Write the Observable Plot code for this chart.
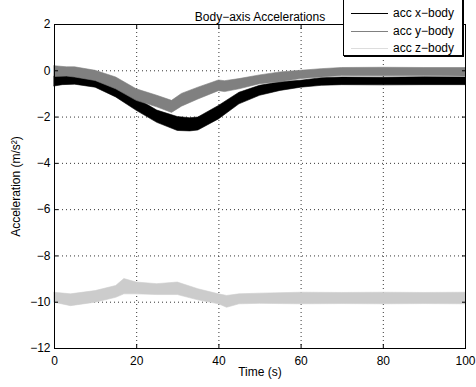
<!DOCTYPE html>
<html>
<head>
<meta charset="utf-8">
<script src="https://cdn.jsdelivr.net/npm/d3@7"></script>
<script src="https://cdn.jsdelivr.net/npm/@observablehq/plot@0.6"></script>
<style>
  html, body { margin: 0; padding: 0; background: #fff; }
  #wrap { position: relative; width: 476px; height: 387px; font-family: "Liberation Sans", Arial, sans-serif; }
  #legend { position: absolute; left: 343px; top: -1px; width: 118px; height: 55px; background: #fff;
    border: 1px solid #000; box-shadow: 1px 1px 0 #000; font-size: 12px; }
  .row { position: absolute; left: 7px; height: 14px; display: flex; align-items: center; }
  .row span.l { display: inline-block; width: 37px; height: 0; border-top: 1px solid; margin-right: 5px; }
</style>
</head>
<body>
<div id="wrap"></div>
<script>
// ---- data (noise band envelopes: low / high) ----
const title = "Body\u2212axis Accelerations";
const xLabel = "Time (s)";
const yLabel = "Acceleration (m/s\u00B2)";
const seriesNames = ["acc x\u2212body", "acc y\u2212body", "acc z\u2212body"];
const seriesColors = ["#000000", "#808080", "#cccccc"];
const xTicks = [0, 20, 40, 60, 80, 100];
const yTicks = [2, 0, -2, -4, -6, -8, -10, -12];

const xTime = [0, 2, 5, 10, 15, 20, 25, 30, 33, 35, 40, 45, 50, 55, 60, 65, 70, 80, 90, 100];
const xLow  = [-0.68, -0.62, -0.6, -0.73, -1.15, -1.73, -2.25, -2.6, -2.62, -2.58, -2.1, -1.45, -1.08, -0.87, -0.73, -0.65, -0.62, -0.63, -0.62, -0.62];
const xHigh = [-0.25, -0.2, -0.22, -0.35, -0.72, -1.2, -1.72, -2.0, -2.05, -2.02, -1.52, -0.95, -0.65, -0.5, -0.43, -0.32, -0.29, -0.3, -0.28, -0.29];

const yTime = [0, 3, 5, 10, 15, 20, 25, 28.6, 31, 35, 40, 41.5, 45, 50, 55, 60, 65, 70, 80, 90, 100];
const yLow  = [-0.27, -0.25, -0.29, -0.44, -0.8, -1.3, -1.58, -1.82, -1.55, -1.24, -0.88, -0.92, -0.8, -0.58, -0.5, -0.36, -0.29, -0.22, -0.24, -0.23, -0.25];
const yHigh = [0.2, 0.15, 0.15, 0.0, -0.29, -0.8, -1.08, -1.3, -1.0, -0.73, -0.42, -0.45, -0.36, -0.2, -0.07, 0.0, 0.07, 0.12, 0.13, 0.12, 0.12];

const zTime = [0, 4, 10, 15, 17, 20, 25, 30, 35, 40, 42, 45, 50, 60, 70, 80, 90, 100];
const zLow  = [-10.02, -10.17, -10.02, -9.81, -9.66, -9.66, -9.69, -9.69, -9.92, -10.09, -10.24, -10.09, -10.07, -10.09, -10.08, -10.09, -10.08, -10.09];
const zHigh = [-9.59, -9.66, -9.52, -9.3, -9.0, -9.15, -9.22, -9.15, -9.44, -9.66, -9.73, -9.66, -9.63, -9.59, -9.6, -9.59, -9.6, -9.59];

function band(t, lo, hi, name) { return t.map((d, i) => ({t: d, lo: lo[i], hi: hi[i], name})); }
const data = [
  ...band(xTime, xLow, xHigh, seriesNames[0]),
  ...band(yTime, yLow, yHigh, seriesNames[1]),
  ...band(zTime, zLow, zHigh, seriesNames[2])
];

const font = "Liberation Sans, Arial, sans-serif";
const chart = Plot.plot({
  width: 476,
  height: 387,
  marginLeft: 54,
  marginRight: 11,
  marginTop: 24,
  marginBottom: 39,
  style: {fontFamily: font, fontSize: "12px", color: "#000", background: "#fff"},
  x: {domain: [0, 100]},
  y: {domain: [-12, 2]},
  color: {domain: seriesNames, range: seriesColors},
  marks: [
    Plot.gridX(xTicks, {stroke: "#000", strokeOpacity: 1, strokeDasharray: "1,3", strokeWidth: 0.8}),
    Plot.gridY(yTicks, {stroke: "#000", strokeOpacity: 1, strokeDasharray: "1,3", strokeWidth: 0.8}),
    Plot.areaY(data, {x: "t", y1: "lo", y2: "hi", z: "name", fill: "name", stroke: "name", strokeWidth: 0.6}),
    Plot.axisX({ticks: xTicks, tickSize: 0, tickPadding: 8, label: xLabel, labelAnchor: "center", labelArrow: "none", labelOffset: 27}),
    Plot.axisY({ticks: yTicks, tickSize: 0, tickPadding: 4, label: yLabel, labelAnchor: "center", labelArrow: "none", labelOffset: 43}),
    Plot.axisX({ticks: xTicks, anchor: "bottom", tickSize: -4, tickFormat: () => "", label: null}),
    Plot.axisX({ticks: xTicks, anchor: "top", tickSize: -4, tickFormat: () => "", label: null}),
    Plot.axisY({ticks: yTicks, anchor: "left", tickSize: -4, tickFormat: () => "", label: null}),
    Plot.axisY({ticks: yTicks, anchor: "right", tickSize: -4, tickFormat: () => "", label: null}),
    Plot.frame({stroke: "#000", strokeWidth: 1}),
    Plot.text([title], {frameAnchor: "top", dy: -12, text: d => d, fontSize: 12, fill: "#000"})
  ]
});
const wrap = document.getElementById("wrap");
wrap.appendChild(chart);

const legend = document.createElement("div");
legend.id = "legend";
const legendY = [6, 24, 41];
seriesNames.forEach((n, i) => {
  const r = document.createElement("div");
  r.className = "row";
  r.style.top = legendY[i] + "px";
  const l = document.createElement("span");
  l.className = "l";
  l.style.borderTopColor = i === 2 ? "#dddddd" : seriesColors[i];
  r.appendChild(l);
  r.appendChild(document.createTextNode(n));
  legend.appendChild(r);
});
wrap.appendChild(legend);
</script>
</body>
</html>
